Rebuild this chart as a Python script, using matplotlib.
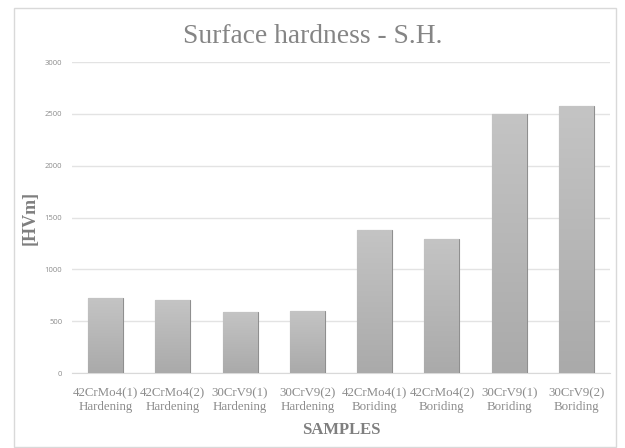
import numpy as np
import matplotlib.pyplot as plt
from matplotlib.colors import LinearSegmentedColormap
from matplotlib.patches import Rectangle

# data
samples = ['42CrMo4(1)\nHardening', '42CrMo4(2)\nHardening', '30CrV9(1)\nHardening',
           '30CrV9(2)\nHardening', '42CrMo4(1)\nBoriding', '42CrMo4(2)\nBoriding',
           '30CrV9(1)\nBoriding', '30CrV9(2)\nBoriding']
hardness = [720, 700, 590, 600, 1375, 1295, 2500, 2575]
yticks = [0, 500, 1000, 1500, 2000, 2500, 3000]

serif = ['Liberation Serif', 'DejaVu Serif']

fig = plt.figure(figsize=(6.25, 4.48), dpi=100)
ax = fig.add_axes([0.1152, 0.1674, 0.8608, 0.6942])

# outer chart border
fig.patches.append(Rectangle((0.022, 0.003), 0.963, 0.98, transform=fig.transFigure,
                             fill=False, edgecolor='#d9d9d9', linewidth=1))

x = np.arange(len(samples))
bars = ax.bar(x, hardness, width=0.52, color='#bcbcbc', edgecolor='#8f8f8f',
              linewidth=0.8, zorder=3)

# vertical grey gradient inside each bar
grey = LinearSegmentedColormap.from_list('g', ['#aaaaaa', '#c4c4c4'])
grad = np.linspace(0, 1, 100).reshape(-1, 1)
for b in bars:
    x0, y0 = b.get_x(), b.get_y()
    w, h = b.get_width(), b.get_height()
    im = ax.imshow(grad, extent=[x0, x0 + w, y0, y0 + h], origin='lower',
                   cmap=grey, aspect='auto', zorder=3.5)
    im.set_clip_path(b)

ax.set_xlim(-0.5, len(samples) - 0.5)
ax.set_ylim(0, 3000)
ax.set_yticks(yticks)
ax.set_yticklabels([str(t) for t in yticks], fontsize=5.5, color='#8c8c8c',
                   family=['Open Sans', 'DejaVu Sans'])
ax.set_xticks(x)
ax.set_xticklabels(samples, fontsize=9.3, color='#8c8c8c', family=serif,
                   linespacing=1.2)
ax.tick_params(axis='y', length=0, pad=7)
ax.tick_params(axis='x', length=0, pad=10)
ax.grid(axis='y', color='#e3e3e3', linewidth=1, zorder=0)
for s in ['top', 'right', 'left']:
    ax.spines[s].set_visible(False)
ax.spines['bottom'].set_color('#d9d9d9')

ax.set_xlabel('SAMPLES', fontsize=12, color='#7f7f7f', family=serif,
              fontweight='bold', labelpad=7)
ax.set_ylabel('[HVm]', fontsize=13, color='#7f7f7f', family=serif,
              fontweight='bold', labelpad=4)

fig.text(0.5, 0.918, 'Surface hardness - S.H.', ha='center', va='center',
         fontsize=19.8, color='#858585', family=serif)

fig.savefig('out.png', dpi=100)
